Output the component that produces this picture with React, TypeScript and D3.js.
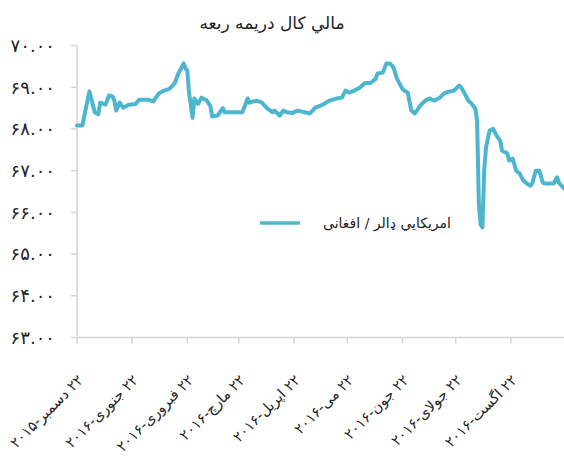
import { useRef, useEffect } from "react";
import * as d3 from "d3";

const title = "مالي كال دريمه ربعه";
const seriesName = "امریکايي ډالر / افغانی";

// daily AFN per USD
const dates = [
  "2015-12-22", "2015-12-25", "2015-12-27", "2015-12-29", "2016-01-01", "2016-01-03",
  "2016-01-04", "2016-01-07", "2016-01-09", "2016-01-11", "2016-01-12", "2016-01-13",
  "2016-01-15", "2016-01-17", "2016-01-20", "2016-01-24", "2016-01-26", "2016-01-31",
  "2016-02-03", "2016-02-06", "2016-02-09", "2016-02-12", "2016-02-15", "2016-02-17",
  "2016-02-20", "2016-02-21", "2016-02-22", "2016-02-23", "2016-02-25", "2016-02-26",
  "2016-02-28", "2016-03-01", "2016-03-04", "2016-03-06", "2016-03-07", "2016-03-10",
  "2016-03-13", "2016-03-14", "2016-03-24", "2016-03-27", "2016-03-28", "2016-04-01",
  "2016-04-04", "2016-04-07", "2016-04-10", "2016-04-11", "2016-04-14", "2016-04-16",
  "2016-04-18", "2016-04-21", "2016-04-24", "2016-04-28", "2016-05-01", "2016-05-04",
  "2016-05-07", "2016-05-09", "2016-05-12", "2016-05-16", "2016-05-19", "2016-05-21",
  "2016-05-23", "2016-05-26", "2016-05-29", "2016-06-01", "2016-06-04", "2016-06-07",
  "2016-06-08", "2016-06-11", "2016-06-13", "2016-06-15", "2016-06-17", "2016-06-19",
  "2016-06-22", "2016-06-23", "2016-06-25", "2016-06-27", "2016-06-29", "2016-07-02",
  "2016-07-05", "2016-07-07", "2016-07-10", "2016-07-13", "2016-07-16", "2016-07-19",
  "2016-07-21", "2016-07-24", "2016-07-25", "2016-07-27", "2016-07-29", "2016-07-31",
  "2016-08-02", "2016-08-03", "2016-08-04", "2016-08-05", "2016-08-06", "2016-08-07",
  "2016-08-08", "2016-08-10", "2016-08-12", "2016-08-14", "2016-08-16", "2016-08-17",
  "2016-08-20", "2016-08-21", "2016-08-23", "2016-08-25", "2016-08-27", "2016-08-29",
  "2016-08-31", "2016-09-02", "2016-09-03", "2016-09-05", "2016-09-07", "2016-09-09",
  "2016-09-11", "2016-09-15", "2016-09-17", "2016-09-18", "2016-09-21",
];
const rates = [
  68.08, 68.08, 68.5, 68.9, 68.4, 68.35,
  68.63, 68.58, 68.8, 68.78, 68.68, 68.44,
  68.63, 68.51, 68.58, 68.6, 68.7, 68.7,
  68.66, 68.85, 68.92, 68.96, 69.1, 69.33,
  69.57, 69.45, 69.4, 68.87, 68.27, 68.73,
  68.6, 68.75, 68.68, 68.55, 68.3, 68.32,
  68.5, 68.4, 68.4, 68.73, 68.63, 68.68,
  68.63, 68.49, 68.4, 68.44, 68.32, 68.44,
  68.4, 68.38, 68.44, 68.4, 68.37, 68.51,
  68.56, 68.6, 68.68, 68.73, 68.75, 68.92,
  68.87, 68.92, 68.99, 69.1, 69.1, 69.2,
  69.33, 69.35, 69.57, 69.57, 69.47, 69.2,
  68.96, 68.92, 68.87, 68.44, 68.37, 68.56,
  68.68, 68.73, 68.68, 68.75, 68.87, 68.9,
  68.92, 69.04, 69.0, 68.85, 68.68, 68.6,
  68.49, 68.2, 66.2, 65.7, 65.64, 67.0,
  67.55, 67.96, 68.0, 67.84, 67.72, 67.48,
  67.41, 67.24, 67.29, 67.0, 66.93, 66.76,
  66.69, 66.64, 66.69, 67.0, 67.0, 66.71,
  66.69, 66.69, 66.84, 66.71, 66.57,
];

const yTicks = [63, 64, 65, 66, 67, 68, 69, 70];
const xTickDates = [
  "2015-12-22", "2016-01-22", "2016-02-22", "2016-03-22", "2016-04-22",
  "2016-05-22", "2016-06-22", "2016-07-22", "2016-08-22",
];
const xTickLabels = [
  "۲۲ دسمبر-۲۰۱۵", "۲۲ جنوری-۲۰۱۶", "۲۲ فبروری-۲۰۱۶", "۲۲ مارچ-۲۰۱۶", "۲۲ اپریل-۲۰۱۶",
  "۲۲ می-۲۰۱۶", "۲۲ جون-۲۰۱۶", "۲۲ جولای-۲۰۱۶", "۲۲ اگست-۲۰۱۶",
];

const toFa = (s: string) => s.replace(/\d/g, (d) => "۰۱۲۳۴۵۶۷۸۹"[+d]);

export default function App() {
  const svgRef = useRef<SVGSVGElement>(null);

  useEffect(() => {
    if (!svgRef.current) return;
    const svg = d3.select(svgRef.current);
    svg.selectAll("*").remove();

    const width = 564;
    const parse = d3.utcParse("%Y-%m-%d");
    const points = dates.map((d, i) => ({ date: parse(d)!, value: rates[i] }));

    const x = d3
      .scaleUtc()
      .domain([parse("2015-12-22")!, parse("2016-09-22")!])
      .range([77, 566]);
    const y = d3.scaleLinear().domain([63, 70]).range([337.5, 45.5]);

    const axisColor = "#d4d4d4";
    const lineColor = "#4db6cf";
    const font = "'DejaVu Sans', sans-serif";

    // title
    svg
      .append("text")
      .attr("x", 272)
      .attr("y", 29)
      .attr("text-anchor", "middle")
      .attr("font-family", font)
      .attr("font-size", 17)
      .attr("fill", "#222")
      .text(title);

    // y axis
    svg
      .append("line")
      .attr("x1", 77)
      .attr("x2", 77)
      .attr("y1", y(70))
      .attr("y2", y(63))
      .attr("stroke", axisColor)
      .attr("stroke-width", 1.5);

    const yg = svg.append("g");
    yTicks.forEach((t) => {
      yg.append("line")
        .attr("x1", 71)
        .attr("x2", 77)
        .attr("y1", y(t))
        .attr("y2", y(t))
        .attr("stroke", axisColor)
        .attr("stroke-width", 1.5);
      yg.append("text")
        .attr("x", 55)
        .attr("y", y(t))
        .attr("dy", "0.35em")
        .attr("text-anchor", "end")
        .attr("font-family", font)
        .attr("font-size", 18)
        .attr("fill", "#222")
        .text(toFa(t.toFixed(2)));
    });

    // x axis
    svg
      .append("line")
      .attr("x1", 77)
      .attr("x2", width)
      .attr("y1", y(63))
      .attr("y2", y(63))
      .attr("stroke", axisColor)
      .attr("stroke-width", 1.5);

    const xg = svg.append("g");
    xTickDates.forEach((d, i) => {
      const px = x(parse(d)!);
      xg.append("line")
        .attr("x1", px)
        .attr("x2", px)
        .attr("y1", y(63))
        .attr("y2", y(63) + 6)
        .attr("stroke", axisColor)
        .attr("stroke-width", 1.5);
      xg.append("text")
        .attr("transform", `translate(${px + 7},${381}) rotate(-45)`)
        .attr("direction", "rtl")
        .attr("text-anchor", "start")
        .attr("font-family", font)
        .attr("font-size", 14.5)
        .attr("fill", "#222")
        .text(xTickLabels[i]);
    });

    // series line
    const line = d3
      .line<{ date: Date; value: number }>()
      .x((d) => x(d.date))
      .y((d) => y(d.value));

    svg
      .append("path")
      .datum(points)
      .attr("d", line)
      .attr("fill", "none")
      .attr("stroke", lineColor)
      .attr("stroke-width", 4)
      .attr("stroke-linejoin", "round")
      .attr("stroke-linecap", "round");

    // legend
    svg
      .append("line")
      .attr("x1", 260)
      .attr("x2", 300)
      .attr("y1", 223)
      .attr("y2", 223)
      .attr("stroke", lineColor)
      .attr("stroke-width", 3.5);
    svg
      .append("text")
      .attr("x", 387)
      .attr("y", 228)
      .attr("text-anchor", "middle")
      .attr("font-family", font)
      .attr("font-size", 14)
      .attr("fill", "#222")
      .text(seriesName);
  }, []);

  return (
    <svg
      ref={svgRef}
      width={564}
      height={465}
      style={{ position: "absolute", left: 0, top: 0, background: "#fff" }}
    />
  );
}
